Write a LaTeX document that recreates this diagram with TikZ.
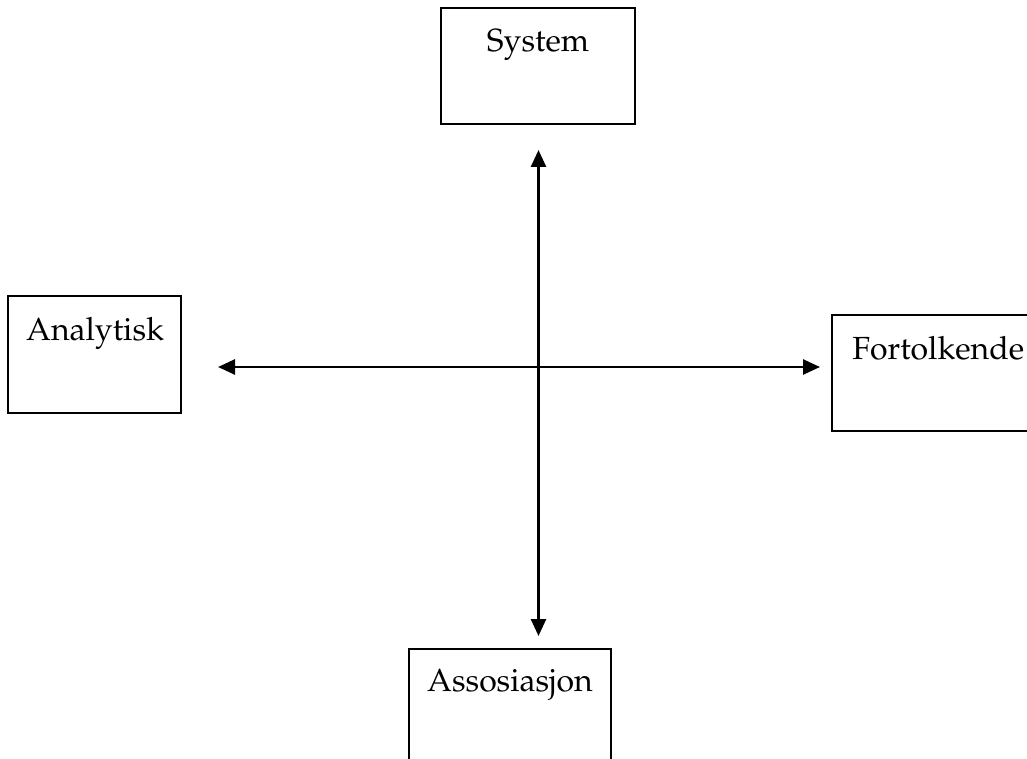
\documentclass[tikz,border=0pt]{standalone}
\usepackage[T1]{fontenc}
\usepackage{mathpazo}
\usetikzlibrary{arrows.meta}
\begin{document}
\begin{tikzpicture}[x=0.5pt,y=-0.5pt,
  box/.style={draw=black,line width=1pt,rectangle,inner sep=0pt},
  lbl/.style={font=\fontsize{16}{19}\selectfont,inner sep=0pt,anchor=base},
  axis/.style={line width=1.3pt,{Triangle[length=8.5pt,width=7.5pt]}-{Triangle[length=8.5pt,width=7.5pt]}}]
\useasboundingbox (0,0) rectangle (1027,759);
\clip (0,0) rectangle (1027,759);
\node[box,minimum width=97pt,minimum height=58pt] (sys) at (538,66) {};
\node[box,minimum width=86.5pt,minimum height=58.5pt] (ana) at (94.5,354.5) {};
\node[box,minimum width=110pt,minimum height=58pt] (fort) at (942,373) {};
\node[box,minimum width=101pt,minimum height=70pt] (ass) at (510,719) {};
\node[lbl] (tsys) at (538,52) {System};
\node[lbl] (tana) at (95,340) {Analytisk};
\node[lbl,anchor=base west] (tfort) at (852,359) {Fortolkende};
\node[lbl] (tass) at (510,691) {Assosiasjon};
\coordinate (top) at (538.5,150);
\coordinate (bot) at (538.5,636);
\coordinate (lft) at (218,367);
\coordinate (rgt) at (820,367);
\draw[axis] (top) -- (bot);
\draw[axis] (lft) -- (rgt);
\end{tikzpicture}
\end{document}
